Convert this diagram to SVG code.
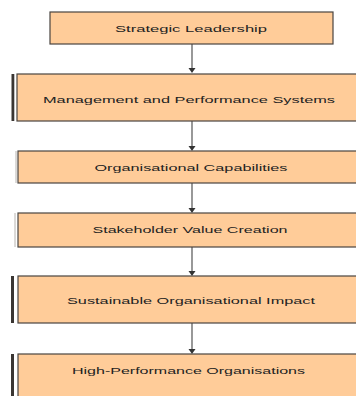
<svg xmlns="http://www.w3.org/2000/svg" width="356" height="396" viewBox="0 0 356 396">
<defs>
<style>
.box{fill:#FFCC99;stroke:#4a4440;stroke-width:1.2}
.bar{fill:#3a3633}
.thin{stroke:#b8b4b0;stroke-width:1}
.lbl{font-family:"Liberation Sans",Arial,sans-serif;font-size:9.5px;fill:#222;text-anchor:middle;dominant-baseline:central}
.conn{stroke:#444;stroke-width:1.1;fill:none}
</style>
<marker id="ah" markerWidth="7" markerHeight="5" refX="3.5" refY="4.5" orient="auto-start-reverse" markerUnits="userSpaceOnUse" viewBox="0 0 7 5">
<path d="M0,0 L7,0 L3.5,5 Z" fill="#333" transform="rotate(0)"/>
</marker>
</defs>
<rect width="356" height="396" fill="#fff"/>
<g id="connectors">
<line class="conn" x1="192" y1="44" x2="192" y2="69"/><path d="M188.5,68 L195.5,68 L192,73 Z" fill="#333"/>
<line class="conn" x1="192" y1="121" x2="192" y2="146"/><path d="M188.5,146 L195.5,146 L192,151 Z" fill="#333"/>
<line class="conn" x1="192" y1="183" x2="192" y2="208"/><path d="M188.5,208 L195.5,208 L192,213 Z" fill="#333"/>
<line class="conn" x1="192" y1="247" x2="192" y2="271"/><path d="M188.5,271 L195.5,271 L192,276 Z" fill="#333"/>
<line class="conn" x1="192" y1="323" x2="192" y2="349"/><path d="M188.5,349 L195.5,349 L192,354 Z" fill="#333"/>
</g>
<g id="n1">
<rect class="box" x="50" y="12" width="283" height="32"/>
<text class="lbl" x="191" y="28.5" textLength="152" lengthAdjust="spacingAndGlyphs">Strategic Leadership</text>
</g>
<g id="n2">
<rect class="bar" x="11.5" y="74" width="2.8" height="47"/>
<rect class="box" x="17" y="74" width="345" height="47"/>
<text class="lbl" x="189" y="99" textLength="292" lengthAdjust="spacingAndGlyphs">Management and Performance Systems</text>
</g>
<g id="n3">
<line class="thin" x1="16" y1="151" x2="16" y2="183"/>
<rect class="box" x="18" y="151" width="345" height="32"/>
<text class="lbl" x="191" y="167" textLength="193" lengthAdjust="spacingAndGlyphs">Organisational Capabilities</text>
</g>
<g id="n4">
<line class="thin" x1="15" y1="213" x2="15" y2="247"/>
<rect class="box" x="18" y="213" width="345" height="34"/>
<text class="lbl" x="190" y="229.5" textLength="195" lengthAdjust="spacingAndGlyphs">Stakeholder Value Creation</text>
</g>
<g id="n5">
<rect class="bar" x="11" y="276" width="3" height="47"/>
<rect class="box" x="18" y="276" width="345" height="47"/>
<text class="lbl" x="191" y="300" textLength="248" lengthAdjust="spacingAndGlyphs">Sustainable Organisational Impact</text>
</g>
<g id="n6">
<rect class="bar" x="11" y="354" width="3" height="50"/>
<rect class="box" x="18" y="354" width="345" height="50"/>
<text class="lbl" x="188.5" y="370.5" textLength="233" lengthAdjust="spacingAndGlyphs">High-Performance Organisations</text>
</g>
</svg>
